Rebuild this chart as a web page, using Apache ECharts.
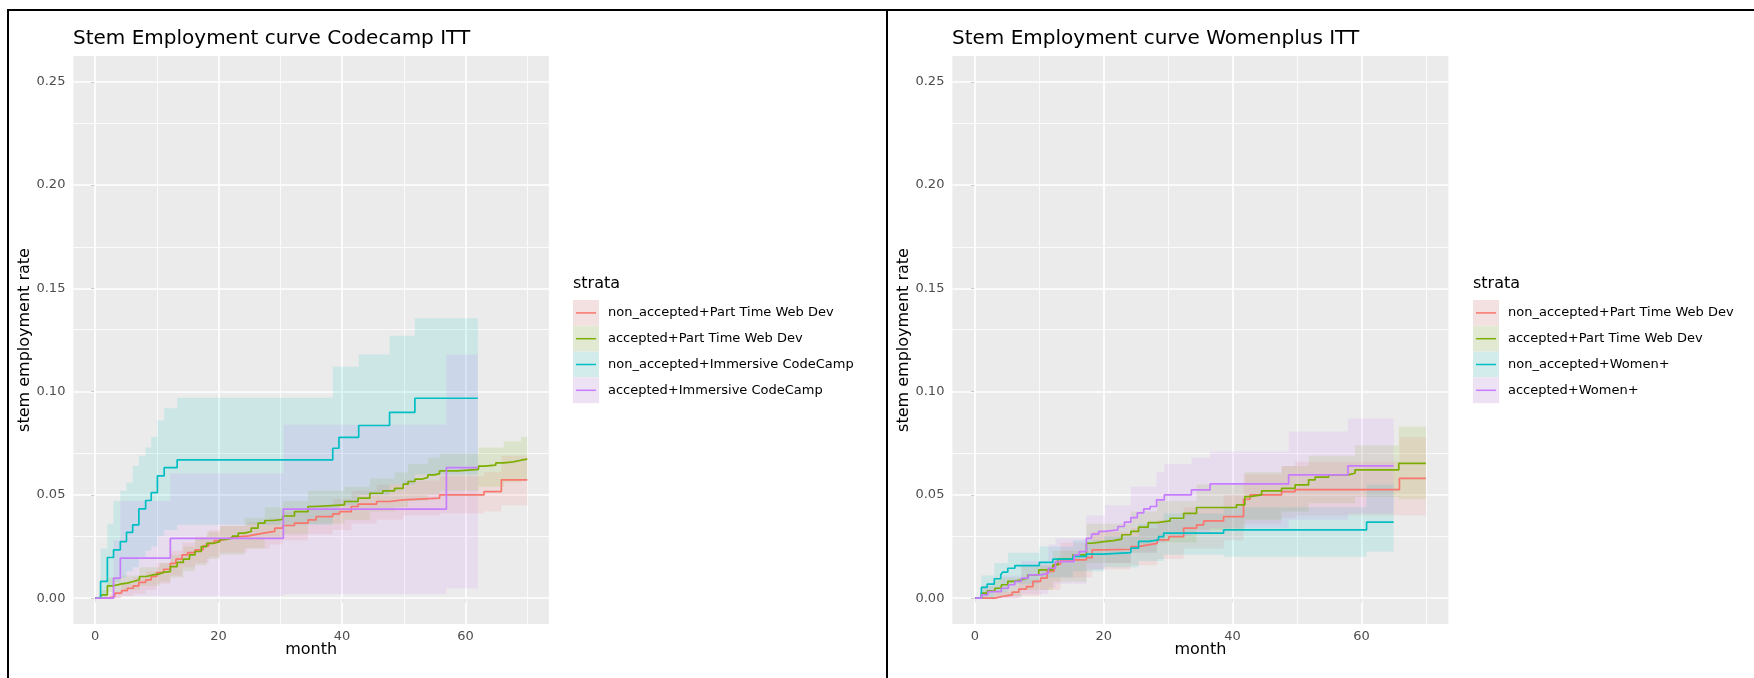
<!DOCTYPE html>
<html>
<head>
<meta charset="utf-8">
<title>Stem Employment curves</title>
<script src="https://cdn.jsdelivr.net/npm/echarts@6/dist/echarts.min.js"></script>
<style>
    html, body { margin: 0; padding: 0; background: #ffffff; }
    #main { width: 1754px; height: 678px; }
</style>
</head>
<body>
<div id="main"></div>
<script>
"use strict";
// 图例文字
var ccStrata = ['non_accepted+Part Time Web Dev', 'accepted+Part Time Web Dev', 'non_accepted+Immersive CodeCamp', 'accepted+Immersive CodeCamp'];
var wpStrata = ['non_accepted+Part Time Web Dev', 'accepted+Part Time Web Dev', 'non_accepted+Women+', 'accepted+Women+'];
var xTicks = [0, 20, 40, 60];
var yTicks = [0, 0.05, 0.10, 0.15, 0.20, 0.25];
var xMinor = [10, 30, 50, 70];
var yMinor = [0.025, 0.075, 0.125, 0.175, 0.225];

/**Codecamp ITT: [month, rate]**/
var ccNonPart = [[0, 0], [2.15, 0.0008], [3.2, 0.0024], [4.3, 0.0037], [5.25, 0.0048], [6.2, 0.006], [7.1, 0.0077], [8.2, 0.0089], [9.1, 0.0105], [10.0, 0.0124], [11.1, 0.014], [12.2, 0.0169], [13.1, 0.0189], [14.1, 0.021], [15.0, 0.0221], [16.2, 0.0234], [17.5, 0.0253], [18.4, 0.0266], [19.3, 0.0279], [20.2, 0.0286], [21.2, 0.0295], [22.4, 0.0298], [23.5, 0.030], [24.6, 0.0305], [25.5, 0.031], [26.4, 0.0315], [27.3, 0.032], [28.3, 0.0323], [29.1, 0.0339], [30.4, 0.0352], [32.3, 0.0363], [34.5, 0.0379], [35.8, 0.0395], [38.5, 0.0408], [39.6, 0.0419], [41.5, 0.0444], [42.6, 0.0455], [45.6, 0.0468], [47.7, 0.0476], [49.9, 0.0484], [55.8, 0.05], [63.0, 0.0516], [65.8, 0.0573], [70, 0.0573]];
var ccAccPart = [[0, 0], [0.9, 0.0016], [2.0, 0.006], [3.0, 0.0069], [4.3, 0.0073], [5.2, 0.0081], [6.2, 0.0089], [7.2, 0.0105], [8.3, 0.0113], [9.4, 0.0118], [10.5, 0.0126], [11.2, 0.0129], [12.2, 0.0153], [13.3, 0.0173], [14.3, 0.0189], [15.3, 0.021], [16.2, 0.0226], [17.2, 0.025], [18.1, 0.0265], [19.1, 0.0274], [20.2, 0.0285], [21.2, 0.029], [22.2, 0.030], [23.2, 0.0315], [24.2, 0.0323], [25.3, 0.0339], [26.4, 0.0363], [27.5, 0.0376], [28.8, 0.0381], [30.4, 0.0398], [32.3, 0.0419], [34.5, 0.0444], [35.6, 0.0452], [40.4, 0.0468], [42.6, 0.0484], [44.5, 0.0508], [46.6, 0.052], [48.5, 0.0532], [49.9, 0.0552], [50.7, 0.0565], [51.8, 0.0576], [52.9, 0.0585], [53.9, 0.0597], [55.0, 0.0603], [55.8, 0.0616], [58.8, 0.0624], [62.1, 0.0639], [63.1, 0.0644], [64.9, 0.0655], [66.2, 0.066], [67.7, 0.0668], [69.0, 0.0673], [70, 0.0673]];
var ccNonImm = [[0, 0], [0.9, 0.0081], [2.0, 0.0197], [3.0, 0.0234], [4.1, 0.0274], [5.1, 0.0319], [6.1, 0.0355], [7.1, 0.0432], [8.2, 0.0473], [9.1, 0.0511], [10.1, 0.0592], [11.2, 0.0632], [13.3, 0.067], [38.5, 0.0726], [39.5, 0.0779], [42.7, 0.0836], [47.7, 0.09], [51.8, 0.0968], [62, 0.0968]];
var ccAccImm = [[0, 0], [3.0, 0.0097], [4.1, 0.0194], [12.2, 0.029], [30.5, 0.0431], [56.9, 0.0632], [62, 0.0632]];

/**Codecamp ITT 置信带: [month, lower, upper]**/
var ccNonPartCI = [[0, 0, 0], [2.15, 0, 0.002], [4.3, 0.001, 0.007], [6.2, 0.002, 0.010], [8.2, 0.004, 0.013], [10.0, 0.007, 0.017], [12.2, 0.011, 0.023], [14.1, 0.015, 0.027], [16.2, 0.017, 0.030], [18.4, 0.020, 0.033], [20.2, 0.022, 0.035], [24.6, 0.024, 0.037], [28.3, 0.026, 0.039], [30.4, 0.028, 0.042], [34.5, 0.031, 0.045], [38.5, 0.033, 0.048], [41.5, 0.036, 0.052], [45.6, 0.038, 0.055], [49.9, 0.040, 0.057], [55.8, 0.041, 0.059], [63.0, 0.042, 0.061], [65.8, 0.045, 0.069], [70, 0.045, 0.069]];
var ccAccPartCI = [[0, 0, 0], [0.9, 0, 0.004], [2.0, 0.003, 0.010], [4.3, 0.004, 0.011], [7.2, 0.006, 0.015], [10.5, 0.008, 0.017], [12.2, 0.010, 0.021], [14.3, 0.013, 0.025], [16.2, 0.016, 0.029], [18.1, 0.019, 0.032], [20.2, 0.021, 0.035], [24.2, 0.024, 0.039], [27.5, 0.029, 0.044], [30.4, 0.031, 0.047], [34.5, 0.036, 0.052], [40.4, 0.038, 0.054], [44.5, 0.042, 0.058], [48.5, 0.044, 0.061], [50.7, 0.047, 0.065], [53.9, 0.050, 0.068], [55.8, 0.052, 0.070], [62.1, 0.054, 0.073], [66.2, 0.056, 0.076], [69.0, 0.057, 0.078], [70, 0.057, 0.078]];
var ccNonImmCI = [[0, 0, 0], [0.9, 0, 0.024], [2.0, 0.006, 0.036], [3.0, 0.008, 0.047], [4.1, 0.010, 0.052], [5.1, 0.013, 0.056], [6.1, 0.015, 0.064], [7.1, 0.020, 0.069], [8.2, 0.023, 0.073], [9.1, 0.025, 0.078], [10.1, 0.030, 0.086], [11.2, 0.033, 0.092], [13.3, 0.0355, 0.097], [38.5, 0.040, 0.112], [39.5, 0.045, 0.112], [42.7, 0.050, 0.118], [47.7, 0.055, 0.127], [51.8, 0.060, 0.1355], [62, 0.060, 0.1355]];
var ccAccImmCI = [[0, 0, 0], [3.0, 0, 0.028], [4.1, 0.001, 0.047], [12.2, 0.001, 0.0605], [30.5, 0.002, 0.084], [56.9, 0.0048, 0.118], [62, 0.0048, 0.118]];

/**Womenplus ITT: [month, rate]**/
var wpNonPart = [[0, 0], [3.1, 0.0008], [4.2, 0.0016], [5.8, 0.0029], [6.8, 0.0044], [8.0, 0.0056], [9.0, 0.0081], [10.2, 0.0097], [11.2, 0.013], [12.3, 0.0165], [13.3, 0.0185], [17.3, 0.0196], [18.2, 0.0234], [20.0, 0.0237], [24.2, 0.025], [25.4, 0.0258], [26.9, 0.0265], [28.3, 0.0282], [30.1, 0.0298], [32.4, 0.0339], [34.4, 0.0355], [35.5, 0.0374], [38.6, 0.0395], [41.7, 0.0479], [42.7, 0.05], [47.6, 0.0516], [49.7, 0.0526], [65.9, 0.058], [70, 0.058]];
var wpAccPart = [[0, 0], [1.0, 0.0024], [1.9, 0.0035], [3.1, 0.0048], [4.1, 0.0065], [5.1, 0.0081], [6.0, 0.0089], [7.2, 0.0097], [8.2, 0.0113], [9.9, 0.0137], [12.1, 0.0161], [12.9, 0.019], [15.2, 0.021], [17.3, 0.0266], [18.2, 0.0274], [20.0, 0.0279], [21.5, 0.0286], [22.8, 0.0307], [24.2, 0.0323], [25.4, 0.0344], [26.9, 0.0366], [28.3, 0.0374], [30.3, 0.0387], [32.4, 0.0411], [34.4, 0.0439], [40.6, 0.0452], [41.9, 0.0492], [42.7, 0.05], [44.5, 0.052], [47.6, 0.0532], [49.7, 0.0549], [51.8, 0.0573], [52.8, 0.0586], [54.9, 0.0597], [57.9, 0.0605], [59.0, 0.0621], [65.8, 0.0653], [70, 0.0653]];
var wpNonWomen = [[0, 0], [1.0, 0.0052], [1.9, 0.0068], [3.0, 0.0094], [4.0, 0.0113], [4.3, 0.0126], [5.1, 0.0145], [6.2, 0.0158], [10.0, 0.0173], [12.1, 0.0189], [15.2, 0.0202], [17.3, 0.0213], [20.0, 0.0221], [24.2, 0.0242], [25.4, 0.0275], [27.0, 0.0282], [28.5, 0.0298], [29.3, 0.0315], [38.6, 0.0331], [60.8, 0.0368], [65, 0.0368]];
var wpAccWomen = [[0, 0], [1.0, 0.0016], [2.0, 0.0032], [4.1, 0.0048], [5.2, 0.0065], [6.2, 0.0081], [7.2, 0.0097], [8.3, 0.0113], [10.3, 0.0121], [11.4, 0.0145], [12.5, 0.0177], [15.4, 0.021], [16.2, 0.0225], [17.3, 0.029], [18.1, 0.031], [19.2, 0.0323], [20.2, 0.0331], [22.2, 0.0347], [23.2, 0.0368], [24.2, 0.039], [25.2, 0.0413], [26.2, 0.0432], [27.2, 0.0444], [28.2, 0.0476], [29.4, 0.05], [33.6, 0.0524], [36.5, 0.0553], [48.7, 0.0597], [57.9, 0.0641], [65, 0.0641]];

/**Womenplus ITT 置信带: [month, lower, upper]**/
var wpNonPartCI = [[0, 0, 0], [3.1, 0, 0.003], [6.8, 0.001, 0.009], [10.2, 0.004, 0.016], [13.3, 0.010, 0.027], [18.2, 0.014, 0.032], [24.2, 0.016, 0.034], [28.3, 0.019, 0.038], [32.4, 0.024, 0.044], [38.6, 0.028, 0.050], [41.7, 0.036, 0.060], [47.6, 0.039, 0.064], [49.7, 0.040, 0.066], [65.9, 0.040, 0.078], [70, 0.040, 0.078]];
var wpAccPartCI = [[0, 0, 0], [1.0, 0, 0.006], [3.1, 0.001, 0.010], [7.2, 0.004, 0.016], [12.1, 0.008, 0.023], [17.3, 0.017, 0.036], [24.2, 0.022, 0.042], [28.3, 0.027, 0.047], [34.4, 0.033, 0.055], [41.9, 0.038, 0.061], [47.6, 0.042, 0.064], [51.8, 0.046, 0.069], [59.0, 0.049, 0.074], [65.8, 0.048, 0.083], [70, 0.048, 0.083]];
var wpNonWomenCI = [[0, 0, 0], [1.0, 0, 0.011], [3.0, 0.003, 0.017], [5.1, 0.007, 0.022], [10.0, 0.010, 0.025], [15.2, 0.013, 0.028], [20.0, 0.015, 0.030], [25.4, 0.018, 0.036], [29.3, 0.021, 0.041], [38.6, 0.020, 0.044], [60.8, 0.0226, 0.055], [65, 0.0226, 0.055]];
var wpAccWomenCI = [[0, 0, 0], [1.0, 0, 0.006], [4.1, 0, 0.011], [7.2, 0.002, 0.018], [11.4, 0.005, 0.026], [12.5, 0.007, 0.029], [17.3, 0.014, 0.040], [20.2, 0.017, 0.045], [24.2, 0.022, 0.054], [28.2, 0.027, 0.061], [29.4, 0.030, 0.065], [33.6, 0.032, 0.068], [36.5, 0.034, 0.071], [48.7, 0.038, 0.0807], [57.9, 0.041, 0.087], [65, 0.041, 0.087]];

var colors = ['#F8766D', '#7CAE00', '#00BFC4', '#C77CFF'];
var bandAlpha = 0.13;
var fontFamily = 'DejaVu Sans';

function rgba(hex, a) {
    var n = parseInt(hex.slice(1), 16);
    return 'rgba(' + (n >> 16) + ',' + ((n >> 8) & 255) + ',' + (n & 255) + ',' + a + ')';
}

// 置信带: 一个多边形, 阶梯形
function bandSeries(ci, color, gi) {
    return {
        type: 'custom',
        xAxisIndex: gi,
        yAxisIndex: gi,
        silent: true,
        z: 2,
        encode: {x: 0, y: [1, 2]},
        data: ci,
        renderItem: function (params, api) {
            if (params.dataIndex !== 0) {
                return null;
            }
            var pts = [], i;
            for (i = 0; i < ci.length - 1; i++) {
                pts.push(api.coord([ci[i][0], ci[i][2]]));
                pts.push(api.coord([ci[i + 1][0], ci[i][2]]));
            }
            for (i = ci.length - 2; i >= 0; i--) {
                pts.push(api.coord([ci[i + 1][0], ci[i][1]]));
                pts.push(api.coord([ci[i][0], ci[i][1]]));
            }
            return {
                type: 'polygon',
                shape: {points: pts},
                style: {fill: rgba(color, bandAlpha), stroke: null}
            };
        }
    };
}

function lineSeries(name, data, color, gi) {
    return {
        type: 'line',
        name: name,
        xAxisIndex: gi,
        yAxisIndex: gi,
        step: 'end',
        data: data,
        symbol: 'none',
        silent: true,
        z: 3,
        lineStyle: {color: color, width: 1.7}
    };
}

// 网格线 (markLine)
function gridLines() {
    var d = [];
    xTicks.forEach(function (v) { d.push({xAxis: v, lineStyle: {width: 1.7}}); });
    yTicks.forEach(function (v) { d.push({yAxis: v, lineStyle: {width: 1.7}}); });
    xMinor.forEach(function (v) { d.push({xAxis: v, lineStyle: {width: 0.8}}); });
    yMinor.forEach(function (v) { d.push({yAxis: v, lineStyle: {width: 0.8}}); });
    return {
        silent: true,
        symbol: 'none',
        z: 1,
        label: {show: false},
        lineStyle: {color: '#ffffff', type: 'solid', opacity: 1},
        emphasis: {disabled: true},
        data: d
    };
}

function panelSeries(gi, curves, bands, names) {
    var s = [];
    bands.forEach(function (b, i) { s.push(bandSeries(b, colors[i], gi)); });
    curves.forEach(function (c, i) { s.push(lineSeries(names[i], c, colors[i], gi)); });
    s[bands.length].markLine = gridLines();
    return s;
}

function legendGraphic(x, names) {
    var g = [{
        type: 'text', left: x, top: 276,
        style: {text: 'strata', font: '16px ' + fontFamily, fill: '#000000'}
    }];
    names.forEach(function (n, i) {
        var y = 300 + i * 25.8;
        g.push({type: 'rect', shape: {x: x, y: y, width: 26, height: 25.8}, style: {fill: '#F2F2F2'}});
        g.push({type: 'rect', shape: {x: x, y: y, width: 26, height: 25.8}, style: {fill: rgba(colors[i], bandAlpha)}});
        g.push({type: 'line', shape: {x1: x + 3, y1: y + 12.9, x2: x + 23, y2: y + 12.9}, style: {stroke: colors[i], lineWidth: 1.5}});
        g.push({type: 'text', x: x + 35, y: y + 12.9, style: {text: n, font: '13px ' + fontFamily, fill: '#000000', textVerticalAlign: 'middle'}});
    });
    return g;
}

function xAxisOpt(gi) {
    return {
        type: 'value', gridIndex: gi, min: -3.5, max: 73.5,
        name: 'month', nameLocation: 'middle', nameGap: 17.5, nameMoveOverlap: false,
        nameTextStyle: {fontSize: 16, color: '#000000', fontFamily: fontFamily},
        axisLine: {show: false},
        axisTick: {show: true, length: 4, lineStyle: {color: '#333333', width: 1}, customValues: xTicks},
        axisLabel: {customValues: xTicks, margin: 6, fontSize: 13, color: '#4D4D4D', fontFamily: fontFamily},
        splitLine: {show: false}
    };
}

function yAxisOpt(gi) {
    return {
        type: 'value', gridIndex: gi, min: -0.0125, max: 0.2625,
        name: 'stem employment rate', nameLocation: 'middle', nameGap: 40,
        nameTextStyle: {fontSize: 16, color: '#000000', fontFamily: fontFamily},
        axisLine: {show: false},
        axisTick: {show: true, length: 4, lineStyle: {color: '#333333', width: 1}, customValues: yTicks},
        axisLabel: {
            customValues: yTicks, margin: 8, fontSize: 13, color: '#4D4D4D', fontFamily: fontFamily,
            formatter: function (v) { return v.toFixed(2); }
        },
        splitLine: {show: false}
    };
}

var chart = echarts.init(document.getElementById('main'), null, {renderer: 'canvas'});

var option = {
    backgroundColor: '#ffffff',
    animation: false,
    textStyle: {fontFamily: fontFamily},
    title: [{
        text: 'Stem Employment curve Codecamp ITT', left: 73, top: 29, padding: 0,
        textStyle: {fontSize: 20, fontWeight: 'normal', color: '#000000', fontFamily: fontFamily}
    }, {
        text: 'Stem Employment curve Womenplus ITT', left: 952, top: 29, padding: 0,
        textStyle: {fontSize: 20, fontWeight: 'normal', color: '#000000', fontFamily: fontFamily}
    }],
    grid: [
        {left: 73.4, top: 56, width: 475.5, height: 568, show: true, backgroundColor: '#EBEBEB', borderWidth: 0},
        {left: 952.4, top: 56, width: 496, height: 568, show: true, backgroundColor: '#EBEBEB', borderWidth: 0}
    ],
    xAxis: [xAxisOpt(0), xAxisOpt(1)],
    yAxis: [yAxisOpt(0), yAxisOpt(1)],
    series: [].concat(
        panelSeries(0, [ccNonPart, ccAccPart, ccNonImm, ccAccImm], [ccNonPartCI, ccAccPartCI, ccNonImmCI, ccAccImmCI], ccStrata),
        panelSeries(1, [wpNonPart, wpAccPart, wpNonWomen, wpAccWomen], [wpNonPartCI, wpAccPartCI, wpNonWomenCI, wpAccWomenCI], wpStrata)
    ),
    graphic: [].concat(
        [
            // 截图的黑色边框
            {type: 'rect', shape: {x: 7, y: 9, width: 1747, height: 2}, style: {fill: '#000000'}},
            {type: 'rect', shape: {x: 7, y: 9, width: 2, height: 669}, style: {fill: '#000000'}},
            {type: 'rect', shape: {x: 886, y: 9, width: 2, height: 669}, style: {fill: '#000000'}}
        ],
        legendGraphic(573, ccStrata),
        legendGraphic(1473, wpStrata)
    )
};

chart.setOption(option);
</script>
</body>
</html>
